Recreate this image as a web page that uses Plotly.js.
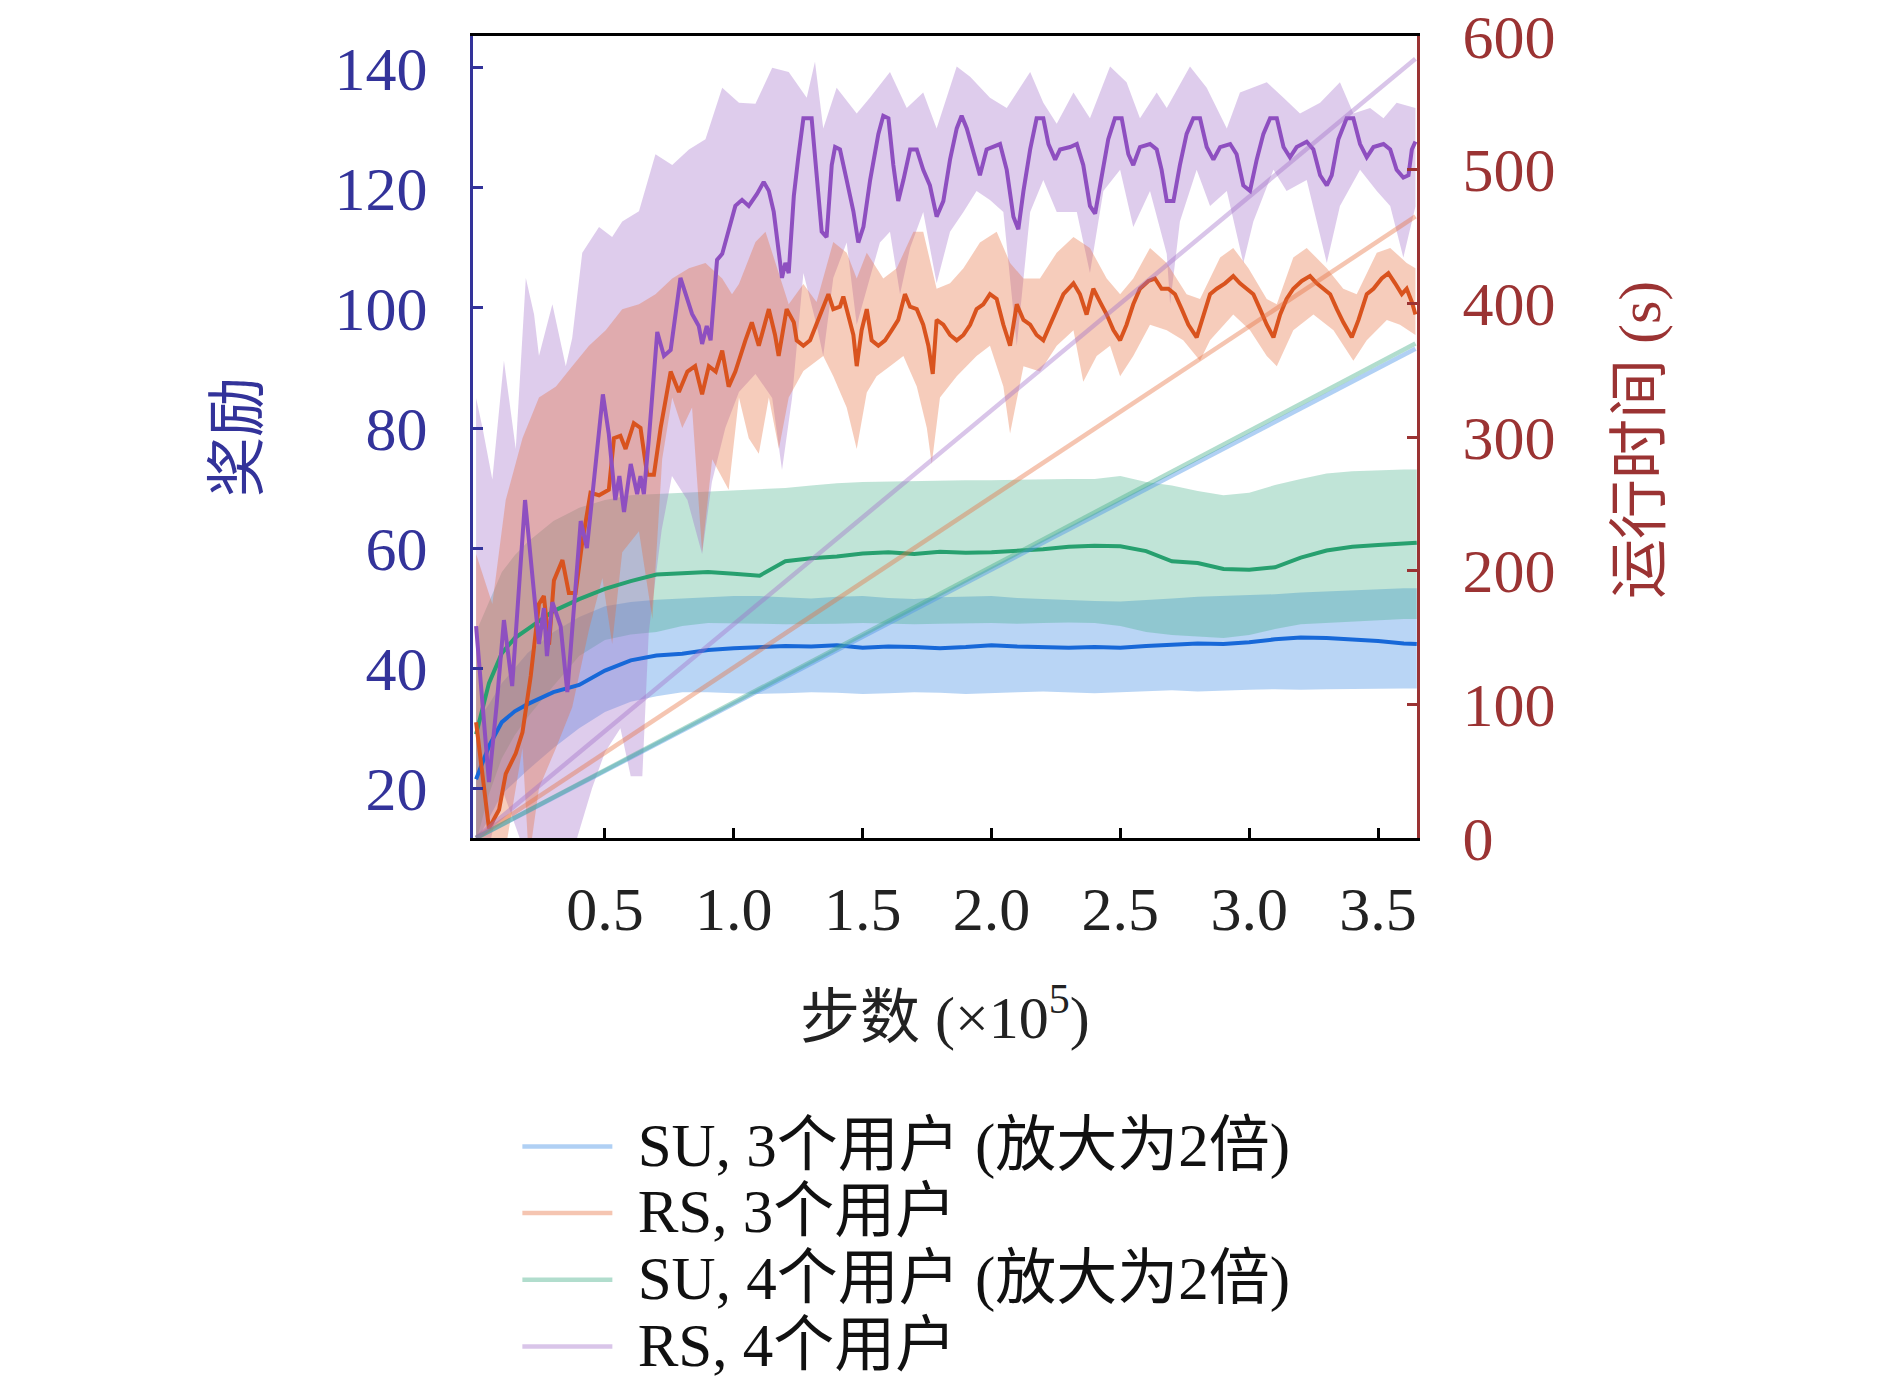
<!DOCTYPE html>
<html>
<head>
<meta charset="utf-8">
<script src="https://cdn.plot.ly/plotly-3.0.1.min.js"></script>
<style>
  html, body { margin: 0; padding: 0; background: #fff; }
  #chart { width: 1890px; height: 1383px; }
</style>
</head>
<body>
<div id="chart"></div>
<script>
// 步数 (×10^5) 轴上的取样点
const suX = [0, 0.05, 0.1, 0.15, 0.2, 0.3, 0.4, 0.5, 0.6, 0.7, 0.8, 0.9, 1.0, 1.1, 1.2, 1.3, 1.4, 1.5, 1.6, 1.7, 1.8, 1.9,
  2.0, 2.1, 2.2, 2.3, 2.4, 2.5, 2.6, 2.7, 2.8, 2.9, 3.0, 3.1, 3.2, 3.3, 3.4, 3.5, 3.6, 3.65];

// SU, 3个用户 奖励
const su3Mean = [21.5, 27, 31, 32.8, 34, 36, 37.2, 39.6, 41.3, 42.1, 42.4, 43, 43.3, 43.5, 43.7, 43.6, 43.8, 43.4, 43.6, 43.5, 43.3, 43.5,
  43.8, 43.6, 43.5, 43.4, 43.5, 43.4, 43.7, 43.9, 44.1, 44.0, 44.3, 44.8, 45.1, 45.0, 44.8, 44.5, 44.1, 44.0];
const su3Upper = [31, 34, 37.5, 40, 42.5, 46, 48.5, 50.3, 51, 51.4, 51.6, 51.8, 52, 52, 51.8, 51.6, 51.9, 52, 51.7, 51.5, 51.8, 51.9,
  52, 51.7, 51.5, 51.3, 51.2, 51.1, 51.3, 51.6, 51.9, 52, 52.1, 52.3, 52.6, 52.8, 53, 53.2, 53.3, 53.3];
const su3Lower = [11, 15, 19, 21, 23, 26.7, 30, 32.7, 34.4, 35.3, 36, 36, 35.8, 35.7, 35.8, 36, 35.9, 35.7, 35.8, 36, 35.9, 35.7,
  35.8, 36, 36.1, 35.9, 35.8, 36, 36.2, 36.3, 36.1, 36.2, 36.4, 36.5, 36.4, 36.5, 36.6, 36.6, 36.6, 36.6];

// SU, 4个用户 奖励
const su4Mean = [29, 37.5, 42.5, 45, 46.5, 49.5, 51.5, 53.2, 54.5, 55.6, 55.8, 56, 55.7, 55.4, 57.8, 58.3, 58.6, 59.1, 59.3, 59.0, 59.4, 59.2,
  59.3, 59.5, 59.8, 60.2, 60.4, 60.3, 59.5, 57.8, 57.5, 56.5, 56.4, 56.8, 58.4, 59.6, 60.2, 60.5, 60.8, 60.9];
const su4Upper = [46, 51, 56, 58.8, 61, 64.5, 66.7, 68, 68.8, 69, 69.2, 69.4, 69.6, 69.8, 70, 70.4, 70.8, 71, 71.1, 71.2, 71.2, 71.3,
  71.3, 71.4, 71.4, 71.5, 71.5, 72, 71, 70.4, 69.5, 68.8, 69.2, 70.5, 71.5, 72.4, 72.8, 73, 73.1, 73.1];
const su4Lower = [11, 19, 25, 28.8, 31.8, 37, 42, 44.7, 45.6, 46, 47, 47.5, 47.5, 47.4, 47.3, 47.3, 47.4, 47.5, 47.4, 47.3, 47.4, 47.5,
  47.5, 47.4, 47.5, 47.6, 47.5, 47, 46, 45.5, 45.3, 45, 45.5, 46.5, 47.3, 47.6, 47.8, 48, 48.2, 48.2];

// RS, 3个用户 奖励
const rs3X = [0, 0.05, 0.089, 0.115, 0.154, 0.18, 0.212, 0.244, 0.263, 0.283, 0.302, 0.335, 0.36, 0.386, 0.412, 0.444, 0.477, 0.515,
  0.535, 0.56, 0.58, 0.612, 0.638, 0.664, 0.69, 0.716, 0.755, 0.787, 0.82, 0.85, 0.877, 0.903, 0.93, 0.955, 0.98, 1.006, 1.045, 1.07,
  1.097, 1.136, 1.16, 1.174, 1.205, 1.233, 1.244, 1.27, 1.296, 1.321, 1.347, 1.367, 1.386, 1.412, 1.425, 1.444, 1.464, 1.477, 1.496,
  1.516, 1.535, 1.561, 1.587, 1.613, 1.638, 1.664, 1.684, 1.71, 1.735, 1.755, 1.772, 1.787, 1.813, 1.839, 1.865, 1.891, 1.917, 1.942,
  1.968, 1.994, 2.02, 2.046, 2.072, 2.098, 2.124, 2.15, 2.175, 2.201, 2.227, 2.253, 2.279, 2.318, 2.343, 2.369, 2.395, 2.421, 2.447,
  2.473, 2.499, 2.524, 2.55, 2.576, 2.609, 2.634, 2.66, 2.686, 2.712, 2.738, 2.764, 2.796, 2.822, 2.848, 2.874, 2.906, 2.938, 2.964,
  2.99, 3.016, 3.042, 3.068, 3.094, 3.12, 3.145, 3.171, 3.204, 3.236, 3.262, 3.288, 3.314, 3.34, 3.365, 3.398, 3.424, 3.456, 3.482,
  3.514, 3.54, 3.566, 3.592, 3.611, 3.631, 3.645];
const rs3Mean = [31, 13.3, 16.4, 22.4, 25.8, 29.3, 38.7, 50.7, 52, 43.9, 54.6, 58, 52.5, 52.5, 61, 69.2, 68.8, 69.7,
  78.3, 78.7, 76.5, 80.8, 80, 72.2, 72.2, 80, 89.4, 86, 89.4, 90.3, 85.6, 90.3, 89.4, 92.9, 86.9, 89.4, 94.6, 97.6,
  93.7, 99.8, 95.5, 92, 99.8, 97.6, 94.6, 93.7, 94.6, 97.2, 99.8, 102.3, 99.8, 100.2, 101.9, 98.9, 95.5, 90.3, 96.3,
  99.8, 94.6, 93.7, 94.6, 96.3, 98, 102.3, 100.2, 99.8, 97.2, 93.7, 89, 98, 97.2, 95.5, 94.6, 95.5, 97.2, 99.8,
  100.6, 102.3, 101.5, 97.2, 93.7, 100.6, 98, 97.2, 95.5, 94.6, 97.2, 99.8, 102.3, 104.1, 102.3, 98.9, 103.2, 101, 98.9,
  96.3, 94.6, 97.2, 100.6, 103.2, 104.5, 104.9, 103.2, 103.2, 102.3, 99.8, 97.2, 95.1, 98.9, 102.3, 103.2, 104.1, 105.3, 104.1,
  103.2, 102.3, 99.8, 97.2, 95.1, 98.9, 101.5, 103.2, 104.5, 105.3, 104.1, 103.2, 102.3, 99.8, 97.6, 95.1, 98, 102.3, 103.2,
  104.9, 105.8, 104.1, 102.3, 103.2, 101, 98.9];
const rs3UpX = [0, 0.063, 0.115, 0.18, 0.244, 0.31, 0.373, 0.438, 0.503, 0.567, 0.632, 0.696, 0.761, 0.826, 0.89, 0.955, 0.993, 1.02,
  1.084, 1.123, 1.149, 1.213, 1.27, 1.321, 1.386, 1.438, 1.477, 1.516, 1.58, 1.632, 1.697, 1.735, 1.787, 1.839, 1.891, 1.955, 2.02,
  2.072, 2.124, 2.188, 2.253, 2.318, 2.382, 2.447, 2.499, 2.55, 2.615, 2.68, 2.757, 2.809, 2.887, 2.938, 2.997, 3.068, 3.107, 3.171,
  3.223, 3.301, 3.365, 3.417, 3.495, 3.547, 3.611, 3.645];
const rs3Upper = [59, 50.7, 68, 78.3, 85.1, 86.9, 90.3, 93.7, 96.3, 99.8, 100.6, 102.3, 104.9, 106.6, 107.5, 104.9, 102.3, 104,
  111, 112.7, 109.2, 100.6, 104, 101, 111, 109.2, 104.9, 109.2, 104.9, 106.6, 112.7, 112.7, 103.2, 104.1, 106.6, 110.9, 112.7,
  107.5, 104.9, 104.9, 109.2, 111.8, 110, 104.9, 102.3, 104.9, 110, 107.5, 102.3, 101.5, 108.4, 110, 106.6, 101.5, 100.6, 108.4,
  110, 106.6, 103.2, 102.3, 109.2, 110, 107.5, 106.6];
const rs3LoX = [0, 0.115, 0.18, 0.205, 0.244, 0.31, 0.373, 0.438, 0.49, 0.528, 0.567, 0.632, 0.684, 0.722, 0.761, 0.8, 0.838, 0.877,
  0.916, 0.98, 1.02, 1.058, 1.097, 1.136, 1.175, 1.213, 1.27, 1.347, 1.386, 1.438, 1.477, 1.516, 1.554, 1.606, 1.658, 1.71, 1.749,
  1.768, 1.8, 1.865, 1.942, 1.994, 2.046, 2.072, 2.124, 2.188, 2.253, 2.318, 2.356, 2.408, 2.46, 2.499, 2.55, 2.615, 2.68, 2.744,
  2.809, 2.848, 2.938, 3.003, 3.068, 3.107, 3.171, 3.249, 3.327, 3.404, 3.456, 3.534, 3.585, 3.645];
const rs3Lower = [8, 10, 26.7, 8, 20, 26.7, 33.5, 46.4, 55, 44, 59.3, 62.8, 48.2, 74.8, 85.1, 80, 83.4, 59.3,
  74.8, 69.7, 85.1, 78.3, 75.7, 85.1, 76.5, 85.1, 89.5, 92, 88.6, 83.4, 76.5, 85.9, 88.6, 90.3, 92, 86.9, 80,
  74, 85.1, 88.6, 92, 93.7, 86.9, 79.1, 90.3, 89.4, 93.7, 96.3, 87.7, 92, 93.7, 88.6, 92, 97.2, 96.3, 94.6,
  91.2, 94.6, 98.9, 96.3, 92, 90.3, 96.3, 98.9, 96.3, 91.2, 94.6, 98, 97.2, 95.5];

// RS, 4个用户 奖励
const rs4X = [0, 0.05, 0.08, 0.108, 0.14, 0.19, 0.244, 0.263, 0.275, 0.296, 0.328, 0.354, 0.406, 0.43, 0.492, 0.515, 0.54, 0.556,
  0.574, 0.6, 0.625, 0.638, 0.651, 0.67, 0.703, 0.729, 0.755, 0.793, 0.838, 0.864, 0.877, 0.895, 0.91, 0.935, 0.955, 1.006, 1.032,
  1.058, 1.09, 1.116, 1.136, 1.155, 1.187, 1.2, 1.213, 1.233, 1.25, 1.27, 1.302, 1.321, 1.341, 1.36, 1.38, 1.393, 1.412, 1.438,
  1.464, 1.483, 1.503, 1.529, 1.561, 1.58, 1.6, 1.619, 1.638, 1.658, 1.684, 1.71, 1.735, 1.761, 1.787, 1.813, 1.839, 1.865, 1.884,
  1.904, 1.93, 1.955, 1.981, 2.007, 2.033, 2.059, 2.085, 2.104, 2.124, 2.15, 2.175, 2.201, 2.221, 2.247, 2.266, 2.305, 2.331, 2.356,
  2.382, 2.402, 2.428, 2.453, 2.479, 2.505, 2.531, 2.55, 2.576, 2.615, 2.641, 2.66, 2.68, 2.706, 2.731, 2.757, 2.783, 2.809, 2.835,
  2.861, 2.887, 2.926, 2.951, 2.977, 3.003, 3.029, 3.055, 3.081, 3.107, 3.133, 3.158, 3.184, 3.223, 3.249, 3.275, 3.301, 3.32, 3.346,
  3.378, 3.404, 3.43, 3.456, 3.482, 3.521, 3.547, 3.572, 3.598, 3.618, 3.631, 3.645];
const rs4Mean = [47, 21, 34, 48, 37, 68, 44, 50, 42, 51, 47, 36, 64.5, 60, 85.6, 79, 68, 72,
  66, 74, 69, 72, 69, 78, 96, 92, 93, 105, 99, 97, 94, 97, 94.6, 108, 109, 117, 118,
  117, 119, 121, 119.5, 116, 105, 107.5, 105.8, 118.7, 125, 131.6, 131.6, 123, 112.7, 111.8, 123.8, 126.8, 126.4, 121.3,
  116.1, 110.9, 113.5, 121.3, 129, 132, 131.6, 123.8, 117.8, 121.3, 126.4, 126.4, 123, 120.4, 115.2, 117.8, 124.7, 129.9, 132,
  129.9, 125.6, 122.1, 126.4, 126.8, 127.3, 123, 115.2, 113.1, 119.5, 126.4, 131.6, 131.6, 127.3, 124.7, 126.4, 126.8, 127.3, 123.8,
  117, 115.7, 122.1, 128.1, 131.6, 131.6, 125.6, 123.8, 126.8, 127.3, 126.4, 123, 117.8, 117.8, 123.8, 129, 131.6, 131.6, 126.8,
  124.7, 126.8, 127.3, 125.6, 120.4, 119.5, 124.7, 129, 131.6, 131.6, 126.8, 125.1, 126.8, 127.7, 126.4, 122.1, 120.4, 122.1, 128.1,
  131.6, 131.6, 127.3, 125.1, 126.8, 127.3, 126.4, 123, 121.7, 122.1, 126.4, 127.7];
const rs4UpX = [0, 0.025, 0.063, 0.108, 0.154, 0.193, 0.225, 0.244, 0.296, 0.348, 0.373, 0.412, 0.477, 0.528, 0.567, 0.632, 0.696,
  0.761, 0.826, 0.89, 0.955, 1.02, 1.084, 1.149, 1.213, 1.283, 1.315, 1.347, 1.399, 1.477, 1.528, 1.606, 1.671, 1.735, 1.787, 1.865,
  1.917, 1.994, 2.059, 2.15, 2.201, 2.253, 2.318, 2.382, 2.46, 2.524, 2.576, 2.641, 2.68, 2.77, 2.835, 2.913, 2.964, 3.068, 3.133,
  3.197, 3.275, 3.352, 3.404, 3.469, 3.521, 3.572, 3.645];
const rs4Upper = [85, 80, 71.4, 91.2, 76.5, 105, 98.9, 92, 100.6, 90.3, 95, 109.2, 113.5, 111.8, 114.4, 116.1, 125.6,
  123.8, 126.4, 128.1, 136.7, 134.2, 134, 140, 139.3, 135, 141, 129.9, 136.7, 132.4, 135, 139.3, 133.3, 135.9, 129.9, 140.2,
  138.5, 135, 133.3, 139.3, 134.2, 130.7, 135.9, 131.6, 140.2, 137.6, 131.6, 135.9, 133.3, 140.2, 136.7, 129.9, 135.9, 137.6, 135,
  132.4, 134.2, 137.6, 132.4, 133.3, 131.6, 134.2, 133.3];
const rs4LoX = [0, 0.05, 0.1, 0.15, 0.2, 0.3, 0.38, 0.45, 0.5, 0.56, 0.6, 0.645, 0.67, 0.72, 0.76, 0.82, 0.877, 0.915, 0.967, 1.02,
  1.084, 1.149, 1.187, 1.226, 1.27, 1.321, 1.347, 1.386, 1.438, 1.477, 1.528, 1.567, 1.606, 1.645, 1.684, 1.735, 1.787, 1.839, 1.891,
  1.942, 1.994, 2.046, 2.098, 2.15, 2.201, 2.253, 2.331, 2.382, 2.434, 2.499, 2.55, 2.615, 2.68, 2.693, 2.731, 2.796, 2.848, 2.913,
  2.977, 3.016, 3.094, 3.145, 3.223, 3.301, 3.352, 3.43, 3.495, 3.547, 3.598, 3.645];
const rs4Lower = [11, 10, 20, 14, 8, 8, 10, 20, 26, 30, 22, 22, 46, 63, 72, 68, 59, 71, 80, 86,
  89, 85, 73, 85, 105.8, 97.2, 92, 105, 110.9, 97.2, 105, 110.9, 112.7, 102.3, 110, 116, 104.1, 112.7, 116,
  119.5, 118, 116, 93.7, 116, 121.3, 116, 116, 105.8, 119.5, 123, 113.5, 119.5, 109, 100.6, 114.4, 123, 117, 119.5,
  107.5, 114.4, 123, 119.5, 121.3, 107.5, 117, 123, 119.5, 117, 108.4, 116.9];

// 运行时间 (s)：起点与终点
const timeX = [0, 3.645];
const su3Time = [0, 366];
const rs3Time = [0, 465];
const su4Time = [0, 370];
const rs4Time = [0, 583];

const seriesNames = ['SU, 3个用户 (放大为2倍)', 'RS, 3个用户', 'SU, 4个用户 (放大为2倍)', 'RS, 4个用户'];

const serif = 'Liberation Serif, DejaVu Serif, Noto Sans CJK SC, serif';
const blueAxis = '#33339a';
const redAxis = '#9b3333';

function band(xUp, yUp, xLo, yLo, color) {
  return {
    x: xUp.concat(xLo.slice().reverse()),
    y: yUp.concat(yLo.slice().reverse()),
    type: 'scatter', mode: 'lines', fill: 'toself', fillcolor: color,
    line: { width: 0 }, showlegend: false, hoverinfo: 'skip'
  };
}
function meanLine(x, y, color) {
  return { x: x, y: y, type: 'scatter', mode: 'lines', line: { color: color, width: 4 }, showlegend: false };
}
// 图例文字比行距大一些，单独放大
function legendLabel(name) {
  return '<span style="font-size:61px">\u2006\u2006' + name + '</span>';
}
function timeLine(y, color, name) {
  return { x: timeX, y: y, yaxis: 'y2', type: 'scatter', mode: 'lines', name: legendLabel(name),
    line: { color: color, width: 4.5 } };
}

const data = [
  band(suX, su3Upper, suX, su3Lower, 'rgba(80,150,230,0.4)'),
  band(suX, su4Upper, suX, su4Lower, 'rgba(60,170,130,0.32)'),
  band(rs4UpX, rs4Upper, rs4LoX, rs4Lower, 'rgba(160,110,200,0.35)'),
  band(rs3UpX, rs3Upper, rs3LoX, rs3Lower, 'rgba(230,110,60,0.35)'),
  meanLine(suX, su3Mean, '#1768d8'),
  meanLine(suX, su4Mean, '#27a06f'),
  meanLine(rs3X, rs3Mean, '#d9531e'),
  meanLine(rs4X, rs4Mean, '#8e4fc0'),
  timeLine(su3Time, 'rgba(80,150,230,0.45)', seriesNames[0]),
  timeLine(rs3Time, 'rgba(230,110,60,0.4)', seriesNames[1]),
  timeLine(su4Time, 'rgba(60,170,130,0.4)', seriesNames[2]),
  timeLine(rs4Time, 'rgba(160,110,200,0.4)', seriesNames[3])
];

const layout = {
  width: 1890, height: 1383,
  margin: { l: 473, r: 473, t: 36, b: 545 },
  paper_bgcolor: '#fff', plot_bgcolor: '#fff',
  showlegend: true,
  xaxis: {
    range: [-0.012, 3.651], tickvals: [0.5, 1.0, 1.5, 2.0, 2.5, 3.0, 3.5], tickformat: '.1f', tickangle: 0,
    showgrid: false, zeroline: false, showline: true, mirror: true, linecolor: '#000', linewidth: 3,
    ticks: 'inside', ticklen: 10, tickwidth: 3, tickcolor: '#000',
    tickfont: { family: serif, size: 62, color: '#222' }, ticklabelstandoff: 15
  },
  yaxis: {
    range: [11.7, 145.3], tickvals: [20, 40, 60, 80, 100, 120, 140],
    showgrid: false, zeroline: false, showline: true, linecolor: blueAxis, linewidth: 3,
    ticks: 'inside', ticklen: 10, tickwidth: 3, tickcolor: blueAxis,
    tickfont: { family: serif, size: 62, color: blueAxis }, ticklabelstandoff: 30
  },
  yaxis2: {
    range: [0, 600], tickvals: [0, 100, 200, 300, 400, 500, 600], overlaying: 'y', side: 'right',
    showgrid: false, zeroline: false, showline: true, linecolor: redAxis, linewidth: 3,
    ticks: 'inside', ticklen: 10, tickwidth: 3, tickcolor: redAxis,
    tickfont: { family: serif, size: 62, color: redAxis }, ticklabelstandoff: 30
  },
  legend: {
    xref: 'paper', yref: 'container', x: 0.047, y: 0.1988, xanchor: 'left', yanchor: 'top',
    bgcolor: 'rgba(0,0,0,0)', borderwidth: 0, itemwidth: 90, traceorder: 'normal',
    font: { family: serif, size: 49, color: '#111' }
  },
  annotations: [
    { text: '奖励', xref: 'paper', yref: 'paper', x: -0.249, y: 0.5, textangle: -90, showarrow: false,
      xanchor: 'center', yanchor: 'middle', font: { family: serif, size: 60, color: blueAxis } },
    { text: '运行时间 (s)', xref: 'paper', yref: 'paper', x: 1.236, y: 0.496, textangle: -90, showarrow: false,
      xanchor: 'center', yanchor: 'middle', font: { family: serif, size: 60, color: redAxis } },
    { text: '步数 (×10<sup>5</sup>)', xref: 'paper', yref: 'paper', x: 0.5, y: -0.219, showarrow: false,
      xanchor: 'center', yanchor: 'middle', font: { family: serif, size: 60, color: '#222' } }
  ]
};

Plotly.newPlot('chart', data, layout, { displayModeBar: false, staticPlot: true });
</script>
</body>
</html>
